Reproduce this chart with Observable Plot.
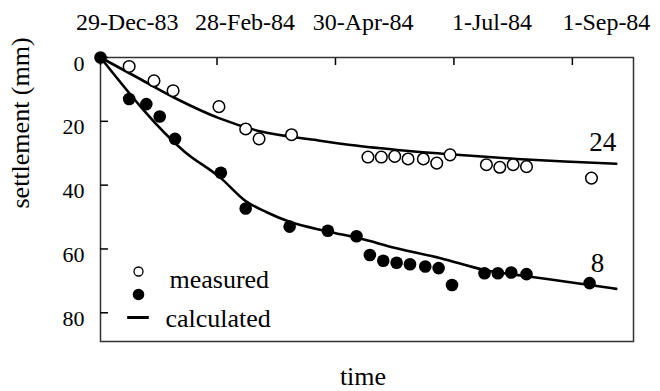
<!DOCTYPE html>
<html>
<head>
<meta charset="utf-8">
<script src="https://cdn.jsdelivr.net/npm/d3@7"></script>
<script src="https://cdn.jsdelivr.net/npm/@observablehq/plot@0.6"></script>
<style>
  html, body { margin: 0; padding: 0; background: #fff; }
  #chart svg { display: block; }
  #chart svg text { font-family: 'Liberation Serif', 'Times New Roman', Times, serif !important; font-variant: normal !important; }
</style>
</head>
<body>
<div id="chart"></div>
<script>
// ---- data ----
const xTickDates = ["1983-12-29", "1984-02-28", "1984-04-30", "1984-07-01", "1984-09-01"];
const xTickLabels = ["29-Dec-83", "28-Feb-84", "30-Apr-84", "1-Jul-84", "1-Sep-84"];
const yTicks = [0, 20, 40, 60, 80];
const xDomainDates = ["1983-12-29", "1984-10-03"];
const yDomain = [0, 89];

// measured, curve "24" (open circles)
const meas24Dates = ["1984-01-13", "1984-01-26", "1984-02-05", "1984-02-29", "1984-03-14", "1984-03-21", "1984-04-07",
  "1984-05-17", "1984-05-24", "1984-05-31", "1984-06-07", "1984-06-15", "1984-06-22", "1984-06-29",
  "1984-07-18", "1984-07-25", "1984-08-01", "1984-08-08", "1984-09-11"];
const meas24Values = [2.8, 7.3, 10.4, 15.4, 22.4, 25.5, 24.2,
  31.2, 31.2, 31.0, 31.8, 31.8, 33.1, 30.5,
  33.6, 34.4, 33.6, 34.2, 37.8];

// measured, curve "8" (filled circles)
const meas8Dates = ["1983-12-29", "1984-01-13", "1984-01-22", "1984-01-29", "1984-02-06", "1984-03-01", "1984-03-14",
  "1984-04-06", "1984-04-26", "1984-05-11", "1984-05-18", "1984-05-25", "1984-06-01", "1984-06-08",
  "1984-06-16", "1984-06-23", "1984-06-30", "1984-07-17", "1984-07-24", "1984-07-31", "1984-08-08", "1984-09-10"];
const meas8Values = [0, 13.0, 14.6, 18.5, 25.5, 36.1, 47.3,
  53.0, 54.3, 56.0, 61.9, 63.7, 64.3, 64.8,
  65.5, 66.0, 71.3, 67.6, 67.6, 67.4, 67.9, 70.7];

// calculated curves
const calc24Dates = ["1983-12-29", "1984-01-18", "1984-02-07", "1984-02-29", "1984-03-22", "1984-04-19", "1984-05-08",
  "1984-06-06", "1984-07-10", "1984-08-03", "1984-08-28", "1984-09-24"];
const calc24Values = [0, 6.5, 13.0, 19.0, 23.2, 25.8, 27.4, 29.2, 30.8, 31.8, 32.6, 33.3];

const calc8Dates = ["1983-12-29", "1984-02-11", "1984-03-01", "1984-03-14", "1984-03-25", "1984-04-06", "1984-04-26",
  "1984-05-12", "1984-06-01", "1984-06-24", "1984-07-17", "1984-08-10", "1984-08-28", "1984-09-24"];
const calc8Values = [0, 29.5, 37.8, 45.0, 48.5, 51.5, 54.5, 56.6, 59.8, 62.9, 66.6, 68.7, 70.2, 72.5];

const curveLabels = ["24", "8"];
const legendLabels = ["measured", "calculated"];
const xTitle = "time";
const yTitle = "settlement (mm)";

// ---- build ----
const parse = d3.utcParse("%Y-%m-%d");
const rows = (dates, vals) => dates.map((d, i) => ({date: parse(d), mm: vals[i]}));
const meas24 = rows(meas24Dates, meas24Values);
const meas8 = rows(meas8Dates, meas8Values);
const calc24 = rows(calc24Dates, calc24Values);
const calc8 = rows(calc8Dates, calc8Values);
const xTicks = xTickDates.map(parse);
const labelMap = new Map(xTicks.map((d, i) => [+d, xTickLabels[i]]));

const serif = "'Liberation Serif', 'Times New Roman', Times, serif";
const dashSymbol = {
  draw(ctx, size) {
    const r = Math.sqrt(size / Math.PI);
    ctx.moveTo(-r, 0);
    ctx.lineTo(r, 0);
  }
};

const chart = Plot.plot({
  width: 660,
  height: 391,
  marginLeft: 100,
  marginRight: 27,
  marginTop: 57,
  marginBottom: 50,
  style: {fontFamily: serif, background: "#fff", color: "#000"},
  x: {type: "utc", domain: xDomainDates.map(parse)},
  y: {domain: yDomain, reverse: true},
  marks: [
    Plot.frame({stroke: "#333", strokeWidth: 1.5}),
    // inward ticks
    Plot.axisX({anchor: "top", ticks: xTicks, tickSize: 7, dy: 7, fill: "none", label: null, strokeWidth: 1.5}),
    Plot.axisY({anchor: "left", ticks: yTicks, tickSize: 8, dx: 8, fill: "none", label: null, strokeWidth: 1.5}),
    // tick labels
    Plot.axisX({anchor: "top", ticks: xTicks, tickSize: 0, tickPadding: 28, tickFormat: d => labelMap.get(+d),
      textAnchor: "end", dx: 78, fontSize: 24, fontFamily: serif, label: null}),
    Plot.axisY({anchor: "left", ticks: yTicks, tickSize: 0, tickPadding: 16, dy: 6, fontSize: 22,
      fontFamily: serif, label: null}),
    // calculated curves
    Plot.line(calc24, {x: "date", y: "mm", curve: "monotone-x", stroke: "#000", strokeWidth: 2.6}),
    Plot.line(calc8, {x: "date", y: "mm", curve: "monotone-x", stroke: "#000", strokeWidth: 2.6}),
    // measured
    Plot.dot(meas24, {x: "date", y: "mm", r: 5.8, stroke: "#000", strokeWidth: 1.5, fill: "#fff"}),
    Plot.dot(meas8, {x: "date", y: "mm", r: 6.3, fill: "#000", stroke: "none"}),
    // curve labels
    Plot.text(calc24.slice(-1), {x: "date", y: "mm", text: () => curveLabels[0], textAnchor: "end",
      lineAnchor: "bottom", dy: -13, fontSize: 27, fontFamily: serif}),
    Plot.text(calc8.slice(-1), {x: "date", y: "mm", text: () => curveLabels[1], textAnchor: "end",
      lineAnchor: "bottom", dx: -12, dy: -17, fontSize: 27, fontFamily: serif}),
    // axis titles
    Plot.text([yTitle], {frameAnchor: "left", rotate: -90, dx: -80, dy: 9, lineAnchor: "middle",
      fontSize: 26, fontFamily: serif}),
    Plot.text([xTitle], {frameAnchor: "bottom", lineAnchor: "bottom", dx: -4, dy: 43, fontSize: 26, fontFamily: serif}),
    // legend
    Plot.dot([0], {frameAnchor: "bottom-left", dx: 38, dy: -70, r: 4.5, stroke: "#000", strokeWidth: 1.3, fill: "#fff"}),
    Plot.dot([0], {frameAnchor: "bottom-left", dx: 38, dy: -47, r: 5.8, fill: "#000", stroke: "none"}),
    Plot.dot([0], {frameAnchor: "bottom-left", dx: 37.5, dy: -24, r: 10.8, symbol: dashSymbol,
      fill: "none", stroke: "#000", strokeWidth: 3}),
    Plot.text([legendLabels[0]], {frameAnchor: "bottom-left", dx: 69, dy: -62, textAnchor: "start",
      lineAnchor: "middle", fontSize: 26, fontFamily: serif}),
    Plot.text([legendLabels[1]], {frameAnchor: "bottom-left", dx: 65, dy: -23, textAnchor: "start",
      lineAnchor: "middle", fontSize: 26, fontFamily: serif})
  ]
});
document.getElementById("chart").appendChild(chart);
</script>
</body>
</html>
